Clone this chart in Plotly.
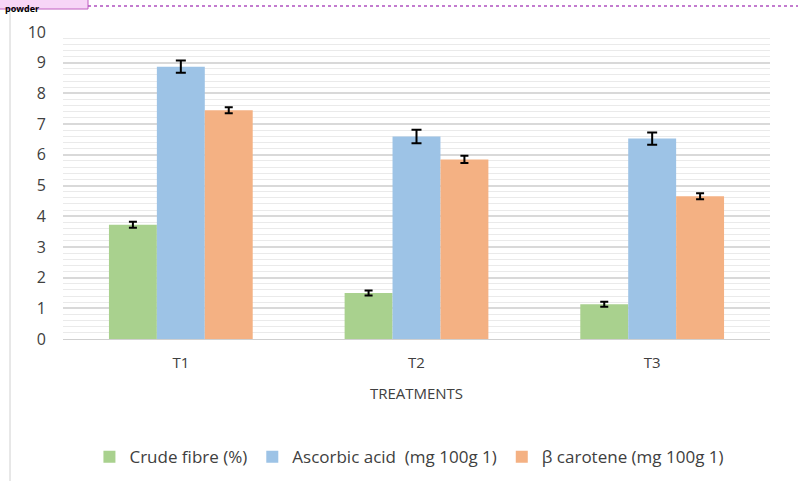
import plotly.graph_objects as go

categories = ["T1", "T2", "T3"]
crude_fibre = [3.72, 1.50, 1.13]
crude_fibre_err = [0.10, 0.08, 0.08]
ascorbic_acid = [8.87, 6.60, 6.53]
ascorbic_acid_err = [0.20, 0.22, 0.20]
beta_carotene = [7.45, 5.85, 4.65]
beta_carotene_err = [0.10, 0.12, 0.10]

W, H = 798, 481
L, R, T, B = 63, 28, 32, 142
pw, ph = W - L - R, H - T - B


def px_x(p):
    return (p - L) / pw


def px_y(p):
    return (H - B - p) / ph


font = "'Open Sans', Lato, sans-serif"

fig = go.Figure()
series = [
    ("Crude fibre (%)", crude_fibre, crude_fibre_err, "#A9D18E", 4),
    ("Ascorbic acid  (mg 100g 1)", ascorbic_acid, ascorbic_acid_err, "#9DC3E6", 5),
    ("\u03b2 carotene (mg 100g 1)", beta_carotene, beta_carotene_err, "#F4B183", 4),
]
for name, vals, errs, col, w in series:
    fig.add_trace(go.Bar(
        x=categories, y=vals, name=name,
        marker=dict(color=col, line=dict(width=0)),
        error_y=dict(type="data", array=errs, color="black", thickness=2, width=w),
    ))

fig.update_layout(
    width=W, height=H,
    margin=dict(l=L, r=R, t=T, b=B, autoexpand=False),
    paper_bgcolor="white", plot_bgcolor="white",
    barmode="group", bargap=0.39, bargroupgap=0,
    font=dict(family=font, size=15, color="#404040"),
    showlegend=True,
    legend=dict(orientation="h", x=0.49, xanchor="center", y=-0.385, yanchor="middle",
                font=dict(size=17, color="#404040"), itemwidth=30, tracegroupgap=0),
    xaxis=dict(
        title=dict(text="TREATMENTS", font=dict(size=15, color="#404040"), standoff=17),
        showline=True, linecolor="#d0d0d0", linewidth=1, ticks="",
        tickfont=dict(size=15, color="#404040"), ticklabelstandoff=10,
    ),
    yaxis=dict(
        range=[0, 10], dtick=1, showgrid=True, gridcolor="#d9d9d9", gridwidth=1.5,
        zeroline=False, ticks="", tickfont=dict(size=16, color="#404040"),
        ticklabelstandoff=16,
        minor=dict(dtick=0.2, showgrid=True, gridcolor="#eaeaea", gridwidth=1),
    ),
)

shapes = [
    # pink label box at top-left
    dict(type="rect", xref="paper", yref="paper", x0=px_x(-2), x1=px_x(88),
         y0=px_y(9), y1=px_y(-5), fillcolor="#F7D6F7", line=dict(color="#C060C0", width=1), layer="below"),
    # dotted purple line along the top
    dict(type="line", xref="paper", yref="paper", x0=px_x(88), x1=px_x(800),
         y0=px_y(6), y1=px_y(6), line=dict(color="#B050C0", width=1.5, dash="dot")),
    # left frame line
    dict(type="line", xref="paper", yref="paper", x0=px_x(10), x1=px_x(10),
         y0=px_y(12), y1=px_y(482), line=dict(color="#d0d0d0", width=1)),
]
fig.update_layout(shapes=shapes)
fig.add_annotation(text="<b>powder</b>", xref="paper", yref="paper",
                   x=px_x(3), y=px_y(0), xanchor="left", yanchor="top",
                   showarrow=False, font=dict(size=9, color="black", family=font))

fig.write_html("out.html", config={"displayModeBar": False},
               post_script="document.body.style.margin='0px';")
